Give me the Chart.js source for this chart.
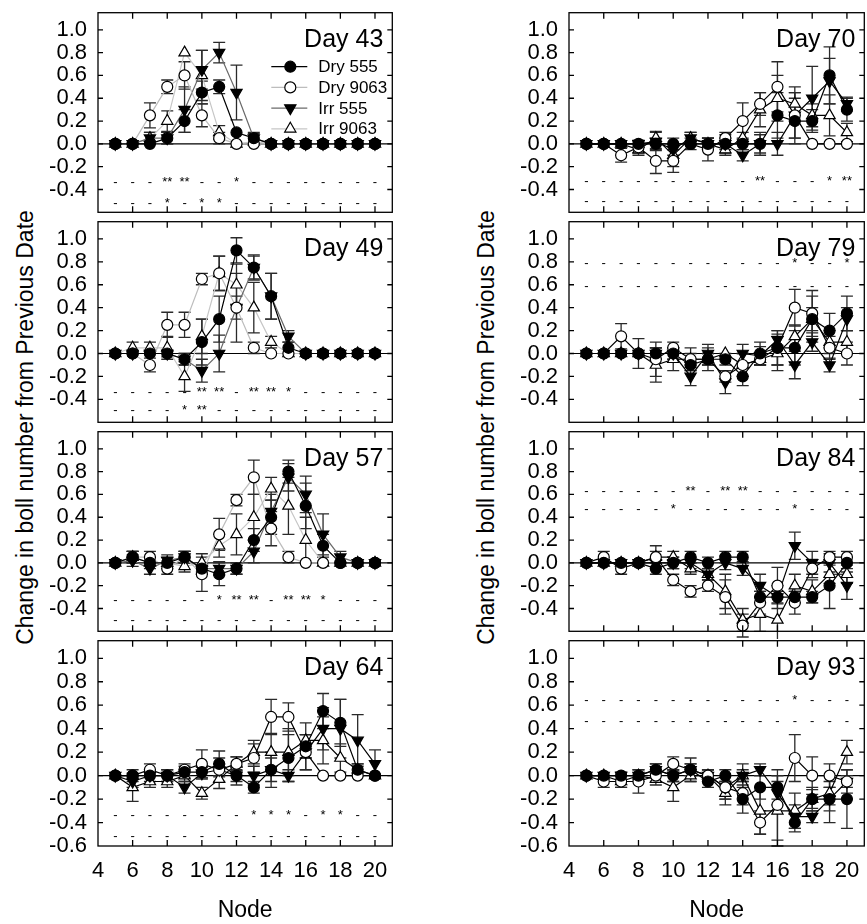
<!DOCTYPE html>
<html lang="en">
<head>
<meta charset="UTF-8" />
<title>Change in boll number from previous date</title>
<script src="https://cdn.jsdelivr.net/npm/chart.js"></script>
<style>
  html, body { margin: 0; padding: 0; background: #fff; overflow: hidden; }
  body { width: 867px; height: 924px; position: relative; font-family: "Liberation Sans", Arial, sans-serif; }
  canvas { position: absolute; }
  .ytitle { position: absolute; width: 500px; height: 23px; line-height: 23px; font-size: 23px;
            text-align: center; white-space: nowrap; transform: rotate(-90deg); color: #000; }
</style>
</head>
<body>
<div class="ytitle" style="left:-225px; top:416px">Change in boll number from Previous Date</div>
<div class="ytitle" style="left:236px; top:416px">Change in boll number from Previous Date</div>

<script>
// nodes 5..20
const nodes = [5, 6, 7, 8, 9, 10, 11, 12, 13, 14, 15, 16, 17, 18, 19, 20];
const xTickVals = [6, 8, 10, 12, 14, 16, 18, 20];
const yTickVals = [-0.6, -0.4, -0.2, 0, 0.2, 0.4, 0.6, 0.8, 1.0];
const yInnerTicks = [-0.4, -0.2, 0, 0.2, 0.4, 0.6, 0.8, 1.0];
const seriesNames = ['Dry 555', 'Dry 9063', 'Irr 555', 'Irr 9063'];

// Day 43
const dry555_43 = [0, 0, 0, 0.05, 0.2, 0.45, 0.5, 0.1, 0.05, 0, 0, 0, 0, 0, 0, 0];
const dry555_43se = [0, 0, 0, 0.05, 0.1, 0.1, 0.06, 0, 0.04, 0, 0, 0, 0, 0, 0, 0];
const dry9063_43 = [0, 0, 0.25, 0.5, 0.6, 0.25, 0.05, 0, 0, 0, 0, 0, 0, 0, 0, 0];
const dry9063_43se = [0, 0, 0.11, 0.06, 0.12, 0.1, 0.05, 0, 0, 0, 0, 0, 0, 0, 0, 0];
const irr555_43 = [0, 0, 0.05, 0.05, 0.3, 0.65, 0.8, 0.45, 0.05, 0, 0, 0, 0, 0, 0, 0];
const irr555_43se = [0, 0, 0.05, 0.05, 0.2, 0.17, 0.09, 0.24, 0.05, 0, 0, 0, 0, 0, 0, 0];
const irr9063_43 = [0, 0, 0.05, 0.2, 0.8, 0.6, 0.1, 0, 0.02, 0, 0, 0, 0, 0, 0, 0];
const irr9063_43se = [0, 0, 0.05, 0.09, 0, 0.22, 0.06, 0, 0, 0, 0, 0, 0, 0, 0, 0];

// Day 49
const dry555_49 = [0, 0, 0, 0, -0.05, 0.1, 0.3, 0.9, 0.75, 0.5, 0.05, 0, 0, 0, 0, 0];
const dry555_49se = [0, 0, 0, 0, 0.05, 0.2, 0.2, 0.11, 0.11, 0.2, 0.05, 0, 0, 0, 0, 0];
const dry9063_49 = [0, 0, -0.1, 0.25, 0.25, 0.65, 0.7, 0.4, 0.05, 0, 0, 0, 0, 0, 0, 0];
const dry9063_49se = [0, 0, 0.06, 0.11, 0.11, 0.05, 0.15, 0.1, 0.05, 0, 0, 0, 0, 0, 0, 0];
const irr555_49 = [0, 0, 0, 0, -0.05, -0.15, 0, 0.4, 0.75, 0.5, 0.15, 0, 0, 0, 0, 0];
const irr555_49se = [0, 0, 0, 0.03, 0.05, 0.1, 0.16, 0.3, 0.1, 0.2, 0.05, 0, 0, 0, 0, 0];
const irr9063_49 = [0, 0.05, 0.05, 0.05, -0.2, 0.15, 0.7, 0.6, 0.4, 0.1, 0, 0, 0, 0, 0, 0];
const irr9063_49se = [0, 0.05, 0.05, 0.1, 0.13, 0.15, 0.15, 0.18, 0.22, 0.05, 0, 0, 0, 0, 0, 0];

// Day 57
const dry555_57 = [0, 0.05, 0, 0, 0.05, -0.05, -0.1, -0.05, 0.2, 0.4, 0.8, 0.5, 0.15, 0, 0, 0];
const dry555_57se = [0, 0.05, 0, 0, 0.05, 0.05, 0.1, 0.05, 0.1, 0.15, 0.1, 0.2, 0.1, 0, 0, 0];
const dry9063_57 = [0, 0.05, 0.05, -0.05, 0.05, -0.1, 0.25, 0.55, 0.75, 0.3, 0.05, 0, 0, 0, 0, 0];
const dry9063_57se = [0, 0.05, 0.05, 0.05, 0.05, 0.15, 0.14, 0.05, 0.15, 0.15, 0.05, 0, 0, 0, 0, 0];
const irr555_57 = [0, 0.02, -0.05, 0.02, 0.05, -0.05, -0.05, -0.05, 0.1, 0.45, 0.75, 0.6, 0.25, 0.05, 0, 0];
const irr555_57se = [0, 0.05, 0.05, 0.05, 0.05, 0.05, 0.06, 0.05, 0.1, 0.15, 0.12, 0.16, 0.18, 0.05, 0, 0];
const irr9063_57 = [0, 0.05, 0, 0, -0.03, 0, 0.15, 0.25, 0.4, 0.65, 0.5, 0.2, 0, 0, 0, 0];
const irr9063_57se = [0, 0.05, 0.05, 0.05, 0.05, 0.08, 0.1, 0.18, 0.2, 0.1, 0.25, 0.2, 0, 0, 0, 0];

// Day 64
const dry555_64 = [0, 0, 0, 0, 0.03, 0.03, 0.1, 0, -0.1, 0.05, 0.15, 0.25, 0.55, 0.45, 0.05, 0];
const dry555_64se = [0, 0, 0, 0, 0.05, 0.05, 0.11, 0.05, 0.05, 0.15, 0.2, 0.1, 0.15, 0.2, 0.05, 0];
const dry9063_64 = [0, 0, 0.05, 0, 0.05, 0.1, 0.05, 0.1, 0.15, 0.5, 0.5, 0.2, 0, 0, 0, 0];
const dry9063_64se = [0, 0.05, 0.05, 0.05, 0.05, 0.12, 0.1, 0.06, 0.12, 0.15, 0.12, 0.15, 0, 0, 0, 0];
const irr555_64 = [0, -0.05, 0, 0, -0.1, 0.02, 0.05, 0, 0, 0.05, 0, 0.2, 0.4, 0.4, 0.3, 0.1];
const irr555_64se = [0, 0.05, 0.05, 0.05, 0.05, 0.05, 0.05, 0.08, 0.08, 0.1, 0.05, 0.15, 0.18, 0.25, 0.22, 0.12];
const irr9063_64 = [0, -0.1, -0.05, -0.05, 0, -0.15, -0.03, 0.1, 0.2, 0.2, 0.2, 0.3, 0.3, 0.15, 0.05, 0];
const irr9063_64se = [0, 0.12, 0.05, 0.05, 0.05, 0.05, 0.08, 0.06, 0.1, 0.16, 0.2, 0.15, 0.2, 0.12, 0.05, 0];

// Day 70
const dry555_70 = [0, 0, 0, 0, 0, 0, 0, 0, 0, 0, 0, 0.25, 0.2, 0.2, 0.6, 0.3];
const dry555_70se = [0, 0, 0, 0.03, 0.05, 0.05, 0, 0.05, 0.05, 0.05, 0.1, 0.2, 0.2, 0.1, 0.25, 0.1];
const dry9063_70 = [0, 0, -0.1, -0.03, -0.15, -0.15, 0, -0.05, 0.05, 0.2, 0.35, 0.5, 0.25, 0, 0, 0];
const dry9063_70se = [0, 0, 0.06, 0.05, 0.11, 0.1, 0.05, 0.1, 0.05, 0.16, 0.1, 0.22, 0.2, 0, 0, 0];
const irr555_70 = [0, 0, 0, 0, 0.02, -0.05, 0.05, 0, 0, -0.1, 0, 0, 0.25, 0.4, 0.55, 0.35];
const irr555_70se = [0, 0, 0, 0.03, 0.08, 0.05, 0.05, 0.05, 0.08, 0.05, 0.08, 0.1, 0.2, 0.28, 0.2, 0.06];
const irr9063_70 = [0, 0, 0, -0.05, 0.05, -0.1, 0.05, 0, -0.05, 0.05, 0.3, 0.4, 0.35, 0.25, 0.25, 0.1];
const irr9063_70se = [0, 0, 0, 0.05, 0.06, 0.1, 0.05, 0.05, 0.05, 0.05, 0.15, 0.2, 0.15, 0.1, 0.18, 0.08];

// Day 79
const dry555_79 = [0, 0, 0, 0, 0, 0, -0.1, -0.05, -0.05, -0.2, 0, 0.05, 0.05, 0.3, 0.2, 0.35];
const dry555_79se = [0, 0, 0, 0, 0.05, 0.05, 0.05, 0.05, 0.05, 0.08, 0.1, 0.15, 0.15, 0.2, 0.15, 0.15];
const dry9063_79 = [0, 0, 0.15, 0, -0.05, 0.05, -0.05, -0.05, -0.2, -0.1, -0.05, 0.05, 0.4, 0.35, 0.05, 0];
const dry9063_79se = [0, 0, 0.11, 0.13, 0.15, 0.05, 0.05, 0.05, 0.05, 0.1, 0.05, 0.15, 0.16, 0.2, 0.1, 0.1];
const irr555_79 = [0, 0, 0, 0, 0, 0, -0.2, 0, -0.25, 0, -0.02, 0.12, -0.1, 0.1, -0.1, 0.3];
const irr555_79se = [0, 0, 0, 0, 0.05, 0.05, 0.08, 0.08, 0.1, 0.08, 0.08, 0.05, 0.12, 0.08, 0.06, 0.1];
const irr9063_79 = [0, 0, 0, 0, -0.1, -0.05, -0.05, -0.05, 0, -0.1, -0.05, 0, 0.15, 0.3, 0.1, 0.1];
const irr9063_79se = [0, 0, 0, 0, 0.15, 0.1, 0.1, 0.1, 0, 0.1, 0.05, 0.15, 0.1, 0.1, 0.1, 0.1];

// Day 84
const dry555_84 = [0, 0, 0, 0, -0.05, 0, 0.05, 0, 0.05, 0.05, -0.3, -0.3, -0.3, -0.3, -0.2, 0];
const dry555_84se = [0, 0, 0, 0, 0.05, 0.05, 0.05, 0.05, 0.05, 0.05, 0.05, 0.05, 0.05, 0.05, 0.2, 0.05];
const dry9063_84 = [0, 0.05, -0.05, 0, 0.05, -0.15, -0.25, -0.2, -0.3, -0.55, -0.35, -0.2, -0.35, -0.05, 0.05, 0.05];
const dry9063_84se = [0, 0.05, 0.05, 0, 0.05, 0.05, 0.05, 0.05, 0.15, 0.1, 0.1, 0.16, 0.1, 0.08, 0.05, 0.05];
const irr555_84 = [0, 0, 0, 0, 0, 0, 0, -0.1, 0, -0.05, -0.2, -0.3, 0.15, 0, 0, -0.2];
const irr555_84se = [0, 0, 0, 0, 0, 0.05, 0.05, 0.05, 0.06, 0.06, 0.1, 0.1, 0.12, 0.1, 0.08, 0.12];
const irr9063_84 = [0, 0, 0, 0, 0.05, 0.05, -0.05, -0.1, -0.25, -0.5, -0.45, -0.5, -0.2, -0.25, -0.1, -0.1];
const irr9063_84se = [0, 0, 0, 0, 0.1, 0.05, 0.05, 0.05, 0.15, 0.1, 0.15, 0.2, 0.1, 0.1, 0.08, 0.08];

// Day 93
const dry555_93 = [0, 0, 0, 0, 0.05, 0, 0.05, -0.05, 0, -0.2, -0.1, -0.1, -0.4, -0.2, -0.2, -0.2];
const dry555_93se = [0, 0, 0.03, 0, 0.05, 0.05, 0.05, 0.05, 0.05, 0.12, 0.1, 0.1, 0.08, 0.1, 0.2, 0.25];
const dry9063_93 = [0, -0.05, -0.05, -0.05, 0, 0.1, 0.05, 0, -0.1, -0.15, -0.4, -0.25, 0.15, 0, 0, -0.05];
const dry9063_93se = [0, 0.05, 0.05, 0.1, 0.05, 0.06, 0.1, 0.05, 0.1, 0.1, 0.1, 0.3, 0.2, 0.16, 0.1, 0.1];
const irr555_93 = [0, 0, 0, 0, 0.05, 0, 0.05, 0, -0.1, 0, 0.05, -0.15, -0.35, -0.35, -0.2, -0.05];
const irr555_93se = [0, 0, 0, 0, 0.05, 0.05, 0.05, 0.05, 0.1, 0.05, 0.05, 0.1, 0.1, 0.05, 0.1, 0.05];
const irr9063_93 = [0, 0, -0.05, 0, -0.03, -0.1, 0, 0, -0.15, 0, -0.3, -0.3, -0.3, -0.2, -0.15, 0.2];
const irr9063_93se = [0, 0, 0.05, 0.05, 0.05, 0.12, 0.05, 0.05, 0.1, 0.1, 0.2, 0.3, 0.15, 0.08, 0.1, 0.1];

// significance marks per node (two rows per panel)
const sig43a = '- - - ** ** - - * - - - - - - - -'.split(' ');
const sig43b = '- - - * - * * - - - - - - - - -'.split(' ');
const sig49a = '- - - - - ** ** - ** ** * - - - - -'.split(' ');
const sig49b = '- - - - * ** - - - - - - - - - -'.split(' ');
const sig57a = '- - - - - - * ** ** - ** ** * - - -'.split(' ');
const sig57b = '- - - - - - - - - - - - - - - -'.split(' ');
const sig64a = '- - - - - - - - * * * - * * - -'.split(' ');
const sig64b = '- - - - - - - - - - - - - - - -'.split(' ');
const sig70a = '- - - - - - - - - - ** - - - * **'.split(' ');
const sig70b = '- - - - - - - - - - - - - - - -'.split(' ');
const sig79a = '- - - - - - - - - - - - * - - *'.split(' ');
const sig79b = '- - - - - - - - - - - - - - - -'.split(' ');
const sig84a = '- - - - - - ** - ** ** - - - - - -'.split(' ');
const sig84b = '- - - - - * - - - - - - * - - -'.split(' ');
const sig93a = '- - - - - - - - - - - - * - - -'.split(' ');
const sig93b = '- - - - - - - - - - - - - - - -'.split(' ');

const panels = [
  {day: 'Day 43', col: 0, row: 0, vals: [dry555_43, dry9063_43, irr555_43, irr9063_43],
   se: [dry555_43se, dry9063_43se, irr555_43se, irr9063_43se], sig: [sig43a, sig43b], levels: [-0.34, -0.52], legend: true},
  {day: 'Day 49', col: 0, row: 1, vals: [dry555_49, dry9063_49, irr555_49, irr9063_49],
   se: [dry555_49se, dry9063_49se, irr555_49se, irr9063_49se], sig: [sig49a, sig49b], levels: [-0.335, -0.5]},
  {day: 'Day 57', col: 0, row: 2, vals: [dry555_57, dry9063_57, irr555_57, irr9063_57],
   se: [dry555_57se, dry9063_57se, irr555_57se, irr9063_57se], sig: [sig57a, sig57b], levels: [-0.325, -0.505]},
  {day: 'Day 64', col: 0, row: 3, vals: [dry555_64, dry9063_64, irr555_64, irr9063_64],
   se: [dry555_64se, dry9063_64se, irr555_64se, irr9063_64se], sig: [sig64a, sig64b], levels: [-0.34, -0.515]},
  {day: 'Day 70', col: 1, row: 0, vals: [dry555_70, dry9063_70, irr555_70, irr9063_70],
   se: [dry555_70se, dry9063_70se, irr555_70se, irr9063_70se], sig: [sig70a, sig70b], levels: [-0.325, -0.505]},
  {day: 'Day 79', col: 1, row: 1, vals: [dry555_79, dry9063_79, irr555_79, irr9063_79],
   se: [dry555_79se, dry9063_79se, irr555_79se, irr9063_79se], sig: [sig79a, sig79b], levels: [0.79, 0.585]},
  {day: 'Day 84', col: 1, row: 2, vals: [dry555_84, dry9063_84, irr555_84, irr9063_84],
   se: [dry555_84se, dry9063_84se, irr555_84se, irr9063_84se], sig: [sig84a, sig84b], levels: [0.63, 0.465]},
  {day: 'Day 93', col: 1, row: 3, vals: [dry555_93, dry9063_93, irr555_93, irr9063_93],
   se: [dry555_93se, dry9063_93se, irr555_93se, irr9063_93se], sig: [sig93a, sig93b], levels: [0.645, 0.46]},
];

// layout
const cols = [{left: 0, width: 400, axisW: 98}, {left: 440, width: 432, axisW: 129}];
const rowTops = [8, 217, 427, 636];
const rowBottoms = [217, 427, 636, 846];
const plotW = 299;
const FONT = '"Liberation Sans", Arial, sans-serif';

const markers = [
  {style: 'circle', r: 5.5, fill: '#000', rot: 0},
  {style: 'circle', r: 5.5, fill: '#fff', rot: 0},
  {style: 'triangle', r: 6.5, fill: '#000', rot: 180},
  {style: 'triangle', r: 6.5, fill: '#fff', rot: 0},
];
const greyLines = ['#000', '#bdbdbd', '#6a6a6a', '#c6c6c6'];
const blackLines = ['#000', '#000', '#000', '#000'];

function marker(ctx, m, x, y) {
  ctx.beginPath();
  if (m.style === 'circle') {
    ctx.arc(x, y, m.r, 0, Math.PI * 2);
  } else {
    const s = m.rot ? -1 : 1;
    ctx.moveTo(x, y - s * m.r);
    ctx.lineTo(x + m.r * 0.866, y + s * m.r * 0.5);
    ctx.lineTo(x - m.r * 0.866, y + s * m.r * 0.5);
    ctx.closePath();
  }
  ctx.fillStyle = m.fill;
  ctx.fill();
  ctx.lineWidth = 1.2;
  ctx.strokeStyle = '#000';
  ctx.stroke();
}

const decor = {
  id: 'decor',
  beforeDatasetsDraw(chart, args, o) {
    const {ctx, chartArea: a, scales: {x, y}} = chart;
    ctx.save();
    // zero line
    const y0 = y.getPixelForValue(0);
    ctx.strokeStyle = '#000';
    ctx.lineWidth = 1.1;
    ctx.beginPath();
    ctx.moveTo(a.left, y0);
    ctx.lineTo(a.right, y0);
    ctx.stroke();
    // significance rows
    ctx.fillStyle = '#000';
    ctx.font = '13px ' + FONT;
    ctx.textAlign = 'center';
    ctx.textBaseline = 'alphabetic';
    o.levels.forEach((lvl, r) => {
      o.sig[r].forEach((m, i) => {
        ctx.fillText(m, x.getPixelForValue(nodes[i]), y.getPixelForValue(lvl) + 3.6);
      });
    });
    // error bars
    ctx.strokeStyle = '#2a2a2a';
    ctx.lineWidth = 1.3;
    chart.data.datasets.forEach(ds => {
      ds.se.forEach((e, i) => {
        if (!e) return;
        const v = ds.data[i].y;
        const px = x.getPixelForValue(nodes[i]);
        const t = y.getPixelForValue(v + e);
        const b = y.getPixelForValue(v - e);
        ctx.beginPath();
        ctx.moveTo(px, t); ctx.lineTo(px, b);
        ctx.moveTo(px - 6, t); ctx.lineTo(px + 6, t);
        ctx.moveTo(px - 6, b); ctx.lineTo(px + 6, b);
        ctx.stroke();
      });
    });
    ctx.restore();
  },
  afterDraw(chart, args, o) {
    const {ctx, chartArea: a, scales: {x, y}} = chart;
    ctx.save();
    ctx.strokeStyle = '#000';
    ctx.lineWidth = 1.3;
    ctx.strokeRect(a.left, a.top, a.right - a.left, a.bottom - a.top);
    ctx.beginPath();
    xTickVals.forEach(v => {
      const px = x.getPixelForValue(v);
      ctx.moveTo(px, a.top); ctx.lineTo(px, a.top + 6);
      ctx.moveTo(px, a.bottom); ctx.lineTo(px, a.bottom - 6);
    });
    yInnerTicks.forEach(v => {
      const py = y.getPixelForValue(v);
      ctx.moveTo(a.left, py); ctx.lineTo(a.left + 5, py);
      ctx.moveTo(a.right, py); ctx.lineTo(a.right - 5, py);
    });
    ctx.stroke();
    // panel title
    ctx.fillStyle = '#000';
    ctx.font = '25px ' + FONT;
    ctx.textAlign = 'right';
    ctx.textBaseline = 'alphabetic';
    ctx.fillText(o.day, a.right - 9, a.top + 34);
    // legend
    if (o.legend) {
      ctx.font = '17px ' + FONT;
      ctx.textAlign = 'left';
      ctx.textBaseline = 'middle';
      chart.data.datasets.forEach((ds, i) => {
        const ly = a.top + 54 + i * 20.7;
        ctx.strokeStyle = ds.borderColor;
        ctx.lineWidth = 1.2;
        ctx.beginPath();
        ctx.moveTo(a.right - 121, ly); ctx.lineTo(a.right - 85, ly);
        ctx.stroke();
        marker(ctx, markers[i], a.right - 102, ly);
        ctx.fillStyle = '#000';
        ctx.fillText(ds.label, a.right - 74, ly + 1);
      });
    }
    ctx.restore();
  }
};

panels.forEach(p => {
  const c = cols[p.col];
  const bottomRow = p.row === 3;
  const top = rowTops[p.row] - 3;
  const height = bottomRow ? 924 - top : rowBottoms[p.row] - rowTops[p.row] + 6;
  const cv = document.createElement('canvas');
  cv.width = c.width;
  cv.height = height;
  cv.style.left = c.left + 'px';
  cv.style.top = top + 'px';
  cv.style.width = c.width + 'px';
  cv.style.height = height + 'px';
  document.body.appendChild(cv);

  const lineCols = (p.col === 0 && p.row < 3) ? greyLines : blackLines;
  const datasets = p.vals.map((vals, i) => ({
    label: seriesNames[i],
    data: nodes.map((n, k) => ({x: n, y: vals[k]})),
    se: p.se[i],
    borderColor: lineCols[i],
    borderWidth: 1.2,
    pointStyle: markers[i].style,
    pointRadius: markers[i].r,
    pointRotation: markers[i].rot,
    pointBackgroundColor: markers[i].fill,
    pointBorderColor: '#000',
    pointBorderWidth: 1.2,
    tension: 0,
    fill: false
  }));

  const xScale = {
    type: 'linear', min: 4, max: 21, display: bottomRow,
    grid: {display: false, drawTicks: false},
    border: {display: false},
    ticks: {stepSize: 2, includeBounds: false, padding: 12, color: '#000', autoSkip: false, maxRotation: 0,
            font: {size: 22, family: FONT}},
    title: {display: true, text: 'Node', color: '#000', font: {size: 23, family: FONT}, padding: {top: 0, bottom: 0}}
  };
  if (bottomRow) {
    xScale.afterFit = s => { s.height = 78; s.paddingLeft = 0; s.paddingRight = 0; };
  }

  new Chart(cv, {
    type: 'line',
    data: {datasets},
    options: {
      responsive: false,
      animation: false,
      events: [],
      layout: {padding: {top: 3, bottom: bottomRow ? 0 : 3, left: 0, right: c.width - c.axisW - plotW}},
      plugins: {
        legend: {display: false},
        tooltip: {enabled: false},
        decor: {day: p.day, sig: p.sig, levels: p.levels, legend: !!p.legend}
      },
      scales: {
        x: xScale,
        y: {
          min: -0.6, max: 1.15,
          grid: {display: false, drawTicks: false},
          border: {display: false},
          afterBuildTicks: s => { s.ticks = yTickVals.map(v => ({value: v})); },
          afterFit: s => { s.width = c.axisW; s.paddingTop = 0; s.paddingBottom = 0; },
          ticks: {
            autoSkip: false,
            padding: 11, color: '#000', font: {size: 22, family: FONT},
            callback: v => (v < -0.55 && !bottomRow) ? '' : Number(v).toFixed(1)
          }
        }
      }
    },
    plugins: [decor]
  });
});
</script>
</body>
</html>
